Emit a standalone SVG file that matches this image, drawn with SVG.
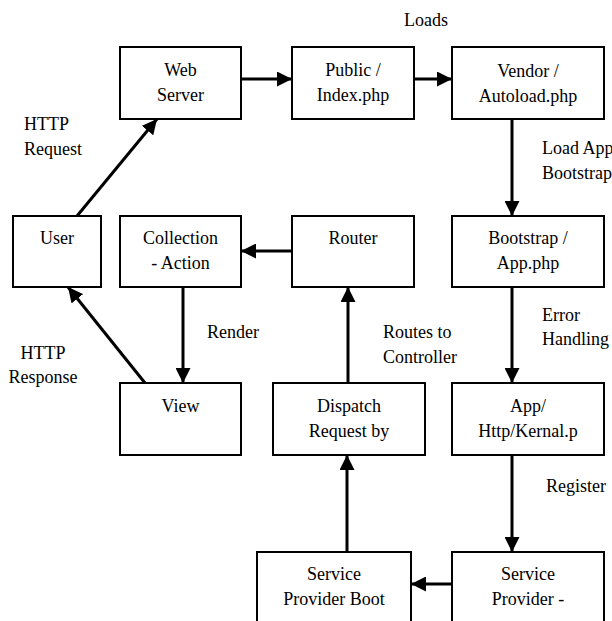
<svg xmlns="http://www.w3.org/2000/svg" width="612" height="621" viewBox="0 0 612 621">
<defs>
<marker id="ah" markerUnits="userSpaceOnUse" markerWidth="15" markerHeight="15" refX="15" refY="7.5" orient="auto">
<path d="M0,0 L15,7.5 L0,15 z" fill="#000"/>
</marker>
</defs>
<style>
.box{fill:#fff;stroke:#000;stroke-width:2}
text{font-family:'Liberation Serif','Times New Roman',serif;font-size:18px;fill:#000}
.c{text-anchor:middle}
.e{stroke:#000;stroke-width:3;fill:none;marker-end:url(#ah)}
</style>
<rect width="612" height="621" fill="#fff"/>
<g id="connectors">
<line class="e" x1="77" y1="216" x2="157" y2="119"/>
<line class="e" x1="241" y1="79" x2="292" y2="79"/>
<line class="e" x1="414" y1="79" x2="452" y2="79"/>
<line class="e" x1="512" y1="119" x2="512" y2="216"/>
<line class="e" x1="512" y1="287" x2="512" y2="383"/>
<line class="e" x1="512" y1="455" x2="512" y2="552"/>
<line class="e" x1="452" y1="584" x2="411" y2="584"/>
<line class="e" x1="347" y1="552" x2="347" y2="455"/>
<line class="e" x1="348" y1="383" x2="348" y2="287"/>
<line class="e" x1="292" y1="251" x2="241" y2="251"/>
<line class="e" x1="183" y1="287" x2="183" y2="383"/>
<line class="e" x1="145" y1="383" x2="68" y2="287"/>
</g>
<g id="labels">
<text x="426" y="26" class="c">Loads</text>
<text x="542" y="154">Load App</text>
<text x="542" y="179">Bootstrap</text>
<text x="24" y="130">HTTP</text>
<text x="24" y="155">Request</text>
<text class="c" x="43" y="359">HTTP</text>
<text class="c" x="43" y="383">Response</text>
<text x="207" y="338">Render</text>
<text x="383" y="338">Routes to</text>
<text x="383" y="363">Controller</text>
<text x="542" y="321">Error</text>
<text x="542" y="345">Handling</text>
<text x="546" y="492">Register</text>
</g>
<g id="web-server"><rect class="box" x="120" y="47" width="121" height="72"/><text class="c" x="180.5" y="76">Web</text><text class="c" x="180.5" y="101">Server</text></g>
<g id="public-index"><rect class="box" x="292" y="47" width="122" height="72"/><text class="c" x="353" y="76">Public /</text><text class="c" x="353" y="101">Index.php</text></g>
<g id="vendor-autoload"><rect class="box" x="452" y="47" width="152" height="72"/><text class="c" x="528" y="77">Vendor /</text><text class="c" x="528" y="102">Autoload.php</text></g>
<g id="user"><rect class="box" x="13" y="216" width="88" height="71"/><text class="c" x="57" y="244">User</text></g>
<g id="collection-action"><rect class="box" x="120" y="216" width="121" height="71"/><text class="c" x="180.5" y="244">Collection</text><text class="c" x="180.5" y="269">- Action</text></g>
<g id="router"><rect class="box" x="292" y="216" width="122" height="71"/><text class="c" x="353" y="244">Router</text></g>
<g id="bootstrap-app"><rect class="box" x="452" y="216" width="152" height="71"/><text class="c" x="528" y="244">Bootstrap /</text><text class="c" x="528" y="269">App.php</text></g>
<g id="view"><rect class="box" x="120" y="383" width="121" height="72"/><text class="c" x="180.5" y="412">View</text></g>
<g id="dispatch"><rect class="box" x="273" y="383" width="152" height="72"/><text class="c" x="349" y="412">Dispatch</text><text class="c" x="349" y="437">Request by</text></g>
<g id="kernel"><rect class="box" x="452" y="383" width="152" height="72"/><text class="c" x="528" y="412">App/</text><text class="c" x="528" y="437">Http/Kernal.p</text></g>
<g id="sp-boot"><rect class="box" x="257" y="552" width="154" height="80"/><text class="c" x="334" y="580">Service</text><text class="c" x="334" y="605">Provider Boot</text></g>
<g id="sp"><rect class="box" x="452" y="552" width="152" height="80"/><text class="c" x="528" y="580">Service</text><text class="c" x="528" y="605">Provider -</text></g>
</svg>
